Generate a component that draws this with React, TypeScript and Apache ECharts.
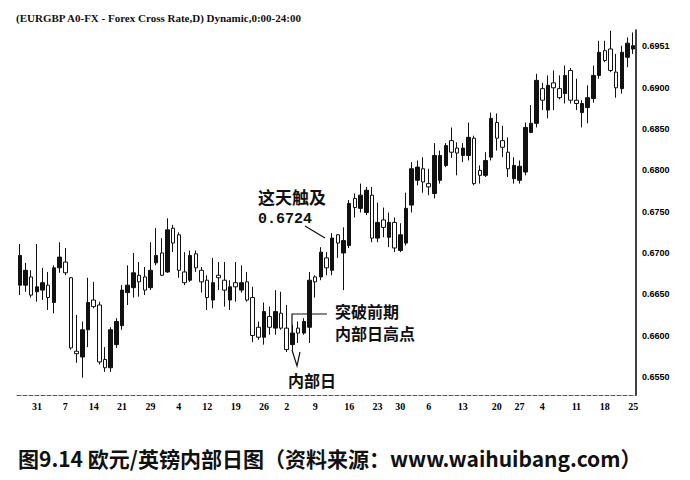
import React, { useEffect, useRef } from "react";
import * as echarts from "echarts";

// [open, close, low, high] per trading day
const OHLC: [number, number, number, number][] = [
  [0.6661, 0.6697, 0.6649, 0.6711],
  [0.6661, 0.6679, 0.6653, 0.6688],
  [0.6671, 0.6649, 0.6646, 0.6679],
  [0.6653, 0.6659, 0.6641, 0.6711],
  [0.6655, 0.6664, 0.6643, 0.6682],
  [0.6661, 0.6646, 0.6631, 0.6677],
  [0.664, 0.6682, 0.6627, 0.6685],
  [0.6682, 0.6695, 0.6676, 0.6713],
  [0.6689, 0.6676, 0.6673, 0.6706],
  [0.667, 0.6585, 0.6583, 0.6671],
  [0.6581, 0.6578, 0.6567, 0.6625],
  [0.6574, 0.6607, 0.6549, 0.6617],
  [0.6607, 0.664, 0.6586, 0.667],
  [0.6643, 0.6635, 0.6633, 0.6665],
  [0.6637, 0.6568, 0.6565, 0.6641],
  [0.6571, 0.6561, 0.6556, 0.6586],
  [0.6561, 0.6607, 0.6556, 0.661],
  [0.6589, 0.6617, 0.6585, 0.6621],
  [0.6612, 0.6655, 0.6607, 0.6661],
  [0.6652, 0.6661, 0.6637, 0.6685],
  [0.6658, 0.6676, 0.6646, 0.67],
  [0.6673, 0.6665, 0.6647, 0.6689],
  [0.6671, 0.6655, 0.6649, 0.6683],
  [0.6658, 0.6679, 0.6655, 0.6713],
  [0.6688, 0.6697, 0.6685, 0.673],
  [0.67, 0.6673, 0.6672, 0.6718],
  [0.6677, 0.6728, 0.6676, 0.6742],
  [0.673, 0.6712, 0.6701, 0.6734],
  [0.6722, 0.6679, 0.667, 0.6725],
  [0.6677, 0.6664, 0.6661, 0.6701],
  [0.6667, 0.6697, 0.6665, 0.6703],
  [0.6699, 0.6682, 0.6677, 0.6703],
  [0.6679, 0.6665, 0.6652, 0.6683],
  [0.6667, 0.6646, 0.6631, 0.6673],
  [0.6643, 0.6664, 0.6633, 0.6694],
  [0.6673, 0.667, 0.6655, 0.6689],
  [0.6667, 0.6655, 0.6635, 0.6689],
  [0.6643, 0.6659, 0.6631, 0.6667],
  [0.6664, 0.6659, 0.6641, 0.6689],
  [0.6655, 0.6664, 0.6652, 0.6685],
  [0.6665, 0.6643, 0.6641, 0.6677],
  [0.6646, 0.66, 0.6592, 0.6659],
  [0.661, 0.6598, 0.6595, 0.6617],
  [0.6598, 0.6629, 0.6589, 0.664],
  [0.6623, 0.661, 0.6601, 0.6635],
  [0.6609, 0.6629, 0.6601, 0.6655],
  [0.6627, 0.6609, 0.6607, 0.6653],
  [0.6609, 0.6583, 0.658, 0.6637],
  [0.6589, 0.6603, 0.6582, 0.6613],
  [0.6609, 0.6603, 0.6591, 0.6617],
  [0.6603, 0.6617, 0.6601, 0.6621],
  [0.661, 0.6667, 0.6591, 0.6677],
  [0.6671, 0.6665, 0.6646, 0.6673],
  [0.6671, 0.6701, 0.6667, 0.6707],
  [0.6694, 0.6682, 0.6673, 0.6701],
  [0.6679, 0.6718, 0.6673, 0.6724],
  [0.6722, 0.6712, 0.6694, 0.6723],
  [0.67, 0.6715, 0.6655, 0.6731],
  [0.6709, 0.676, 0.6706, 0.6764],
  [0.6766, 0.6755, 0.6743, 0.6772],
  [0.6754, 0.677, 0.6749, 0.6784],
  [0.6749, 0.6776, 0.6746, 0.678],
  [0.677, 0.6718, 0.6713, 0.678],
  [0.6718, 0.6737, 0.6713, 0.6761],
  [0.674, 0.6731, 0.6719, 0.6755],
  [0.6719, 0.6737, 0.6707, 0.6749],
  [0.6737, 0.6706, 0.6701, 0.6743],
  [0.6703, 0.6722, 0.6701, 0.6736],
  [0.6712, 0.6754, 0.6709, 0.6773],
  [0.6758, 0.6802, 0.6749, 0.681],
  [0.6788, 0.6804, 0.6782, 0.6812],
  [0.6802, 0.6786, 0.6773, 0.6816],
  [0.6784, 0.678, 0.677, 0.6802],
  [0.6772, 0.6818, 0.6766, 0.6833],
  [0.6788, 0.6818, 0.6784, 0.6824],
  [0.6806, 0.683, 0.6804, 0.6833],
  [0.6836, 0.6822, 0.6815, 0.6852],
  [0.6827, 0.6821, 0.6794, 0.6834],
  [0.6818, 0.6827, 0.681, 0.6833],
  [0.6818, 0.684, 0.6812, 0.6858],
  [0.6839, 0.6784, 0.6782, 0.6842],
  [0.68, 0.6794, 0.6784, 0.6806],
  [0.6794, 0.6812, 0.6792, 0.6822],
  [0.6816, 0.6863, 0.6812, 0.687],
  [0.6858, 0.6839, 0.6824, 0.6869],
  [0.6836, 0.6828, 0.6816, 0.6854],
  [0.6822, 0.6802, 0.6792, 0.684],
  [0.679, 0.6806, 0.6784, 0.6816],
  [0.6788, 0.6805, 0.6784, 0.6812],
  [0.6798, 0.6852, 0.6794, 0.6858],
  [0.6846, 0.6857, 0.6845, 0.6879],
  [0.6857, 0.6909, 0.6852, 0.6917],
  [0.6899, 0.6885, 0.6873, 0.6906],
  [0.6873, 0.6903, 0.6863, 0.6915],
  [0.6906, 0.69, 0.6873, 0.6921],
  [0.6899, 0.6888, 0.6886, 0.6915],
  [0.6893, 0.6915, 0.6881, 0.6927],
  [0.6921, 0.6885, 0.6881, 0.6924],
  [0.6885, 0.6881, 0.6873, 0.6911],
  [0.687, 0.6881, 0.6852, 0.6885],
  [0.6876, 0.6888, 0.6857, 0.6903],
  [0.6887, 0.6915, 0.6882, 0.6927],
  [0.6915, 0.6943, 0.6911, 0.6957],
  [0.6945, 0.6933, 0.6931, 0.6957],
  [0.6947, 0.6921, 0.6919, 0.6969],
  [0.6919, 0.69, 0.6888, 0.6941],
  [0.6899, 0.6943, 0.6893, 0.6951],
  [0.6937, 0.6954, 0.6925, 0.6961],
  [0.6947, 0.6951, 0.6941, 0.6967],
];

// weekly date labels on the x axis and the trading day (index) they sit under
const X_TICK_LABELS = ["31", "7", "14", "21", "29", "4", "12", "19", "26", "2", "9", "16", "23", "30", "6", "13", "20", "27", "4", "11", "18", "25"];
const X_TICK_INDEX = [3, 8, 13, 18, 23, 28, 33, 38, 43, 47, 52, 58, 63, 67, 72, 78, 84, 88, 92, 98, 103, 108];

// price labels on the right axis
const Y_TICKS = [0.655, 0.66, 0.665, 0.67, 0.675, 0.68, 0.685, 0.69, 0.6951];

const TITLE = "(EURGBP A0-FX - Forex Cross Rate,D) Dynamic,0:00-24:00";
const CAPTION = "图9.14 欧元/英镑内部日图（资料来源：www.waihuibang.com）";

export default function App() {
  const ref = useRef<HTMLDivElement>(null);
  useEffect(() => {
    if (!ref.current) return;
    const chart = echarts.init(ref.current, undefined, { renderer: "svg" });
    const categories = OHLC.map((_, i) => String(i));
    const labelMap: Record<number, string> = {};
    X_TICK_INDEX.forEach((idx, k) => (labelMap[idx] = X_TICK_LABELS[k]));
    const cjk = "'Noto Sans CJK SC', sans-serif";
    chart.setOption({
      animation: false,
      backgroundColor: "#fff",
      grid: { left: 17, right: 54, top: 30, bottom: 85 },
      xAxis: {
        type: "category",
        data: categories,
        boundaryGap: true,
        axisLine: { lineStyle: { color: "#555", type: "dashed", width: 1 } },
        axisTick: { show: false },
        axisLabel: {
          interval: (index: number) => labelMap[index] !== undefined,
          formatter: (_v: string, index: number) => labelMap[index] ?? "",
          color: "#000",
          fontFamily: "Liberation Serif",
          fontWeight: "bold",
          fontSize: 10,
          margin: 6,
        },
        splitLine: { show: false },
      },
      yAxis: {
        type: "value",
        position: "right",
        min: 0.6528,
        max: 0.697,
        scale: true,
        splitLine: { show: false },
        axisLine: { show: true, lineStyle: { color: "#000", width: 1.5 } },
        axisTick: { show: false },
        axisLabel: {
          customValues: Y_TICKS,
          formatter: (v: number) => v.toFixed(4),
          color: "#000",
          fontFamily: "Liberation Sans",
          fontWeight: "bold",
          fontSize: 9,
          margin: 6,
        },
      },
      series: [
        {
          type: "candlestick",
          data: OHLC,
          barWidth: 4,
          itemStyle: {
            color: "#111",
            color0: "#fff",
            borderColor: "#111",
            borderColor0: "#111",
            borderWidth: 1,
          },
        },
      ],
      graphic: [
        {
          type: "text",
          x: 16,
          y: 18,
          style: { text: TITLE, fill: "#111", font: "bold 11px 'Liberation Serif'", textAlign: "left", textVerticalAlign: "middle" },
        },
        {
          type: "text",
          x: 258,
          y: 196,
          style: { text: "这天触及", fill: "#111", fontFamily: cjk, fontWeight: "bold", fontSize: 17, textAlign: "left", textVerticalAlign: "middle" },
        },
        {
          type: "text",
          x: 258,
          y: 219,
          style: { text: "0.6724", fill: "#111", fontFamily: "Liberation Mono", fontWeight: "bold", fontSize: 15, textAlign: "left", textVerticalAlign: "middle" },
        },
        { type: "line", shape: { x1: 305, y1: 226, x2: 325, y2: 238 }, style: { stroke: "#111", lineWidth: 1.2 } },
        {
          type: "text",
          x: 335,
          y: 311,
          style: { text: "突破前期", fill: "#111", fontFamily: cjk, fontWeight: "bold", fontSize: 16, textAlign: "left", textVerticalAlign: "middle" },
        },
        {
          type: "text",
          x: 335,
          y: 333,
          style: { text: "内部日高点", fill: "#111", fontFamily: cjk, fontWeight: "bold", fontSize: 16, textAlign: "left", textVerticalAlign: "middle" },
        },
        {
          type: "polyline",
          shape: { points: [[292, 337], [292, 314], [327, 314]] },
          style: { stroke: "#111", lineWidth: 1.2, fill: "none" },
        },
        {
          type: "polyline",
          shape: { points: [[292, 350], [297, 366], [300, 352]] },
          style: { stroke: "#111", lineWidth: 1.2, fill: "none" },
        },
        {
          type: "text",
          x: 288,
          y: 380,
          style: { text: "内部日", fill: "#111", fontFamily: cjk, fontWeight: "bold", fontSize: 16, textAlign: "left", textVerticalAlign: "middle" },
        },
        {
          type: "text",
          x: 18,
          y: 458,
          style: { text: CAPTION, fill: "#111", fontFamily: cjk, fontWeight: "bold", fontSize: 21, textAlign: "left", textVerticalAlign: "middle" },
        },
      ],
    });
    return () => chart.dispose();
  }, []);
  return <div ref={ref} style={{ position: "absolute", left: 0, top: 0, width: 690, height: 480, background: "#fff" }} />;
}
